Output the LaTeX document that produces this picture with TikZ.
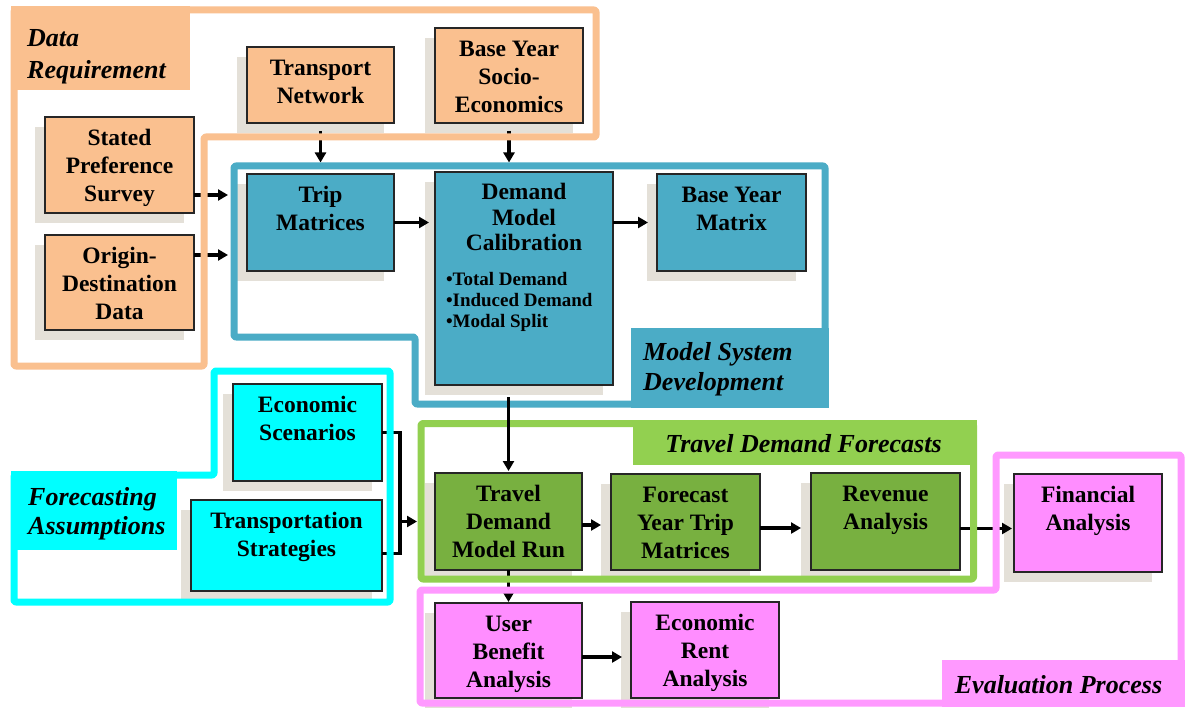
\documentclass[tikz,border=0pt]{standalone}
\usepackage{fontspec}
\setmainfont{Liberation Serif}
\usetikzlibrary{arrows.meta,shadows}

\definecolor{peach}{HTML}{FAC08F}
\definecolor{steel}{HTML}{4BACC6}
\definecolor{aqua}{HTML}{00FFFF}
\definecolor{leaf}{HTML}{78B040}
\definecolor{leafframe}{HTML}{92D050}
\definecolor{orchid}{HTML}{FF8DFF}
\definecolor{orchidframe}{HTML}{FF99FF}
\definecolor{shadowc}{HTML}{E4E0D8}
\definecolor{boxline}{HTML}{262626}

\pgfdeclarelayer{arrowlayer}
\pgfdeclarelayer{framelayer}
\pgfdeclarelayer{toplayer}
\pgfsetlayers{main,arrowlayer,framelayer,toplayer}

\newcommand\boxfont{\fontsize{23.5}{28}\selectfont\bfseries}
\newcommand\groupfont{\fontsize{26}{30}\selectfont\bfseries\itshape}
% text block of a process box: fixed size, first baseline 28.5pt below the top
\newcommand\boxtext[3]{\begin{minipage}[c][#2pt][t]{#1pt}\centering\rule{0pt}{28.5pt}#3\end{minipage}}
% left aligned group caption, anchored at its first baseline
\newcommand\grouptext[2]{\begin{minipage}[t]{#1pt}\raggedright #2\end{minipage}}

\tikzset{
  box/.style={draw=boxline, line width=1.2pt, inner sep=0pt, outer sep=0pt,
    text=black, font=\boxfont,
    drop shadow={shadow xshift=-10pt, shadow yshift=-10pt, fill=shadowc, opacity=1}},
  frame/.style={line width=7pt, rounded corners=2pt, line join=round},
  caption/.style={inner sep=0pt, text=black, font=\groupfont},
  arr/.style={line width=3.5pt, -{Triangle[length=10pt,width=11pt]}},
  bracketline/.style={line width=3.5pt, line join=miter}
}

\begin{document}
\begin{tikzpicture}[x=1pt,y=-1pt]
\useasboundingbox (0,0) rectangle (1185,708);
\fill[white] (0,0) rectangle (1185,708);

% ---------------- data requirement inputs
\node[box, fill=peach] (tn)  at (320.5,85)   {\boxtext{147}{76}{Transport\\Network}};
\node[box, fill=peach] (bys) at (509,75.5)   {\boxtext{148}{95}{Base Year\\Socio-\\Economics}};
\node[box, fill=peach] (sps) at (119.5,165)  {\boxtext{149}{96}{Stated\\Preference\\Survey}};
\node[box, fill=peach] (od)  at (119.5,282.5){\boxtext{149}{95}{Origin-\\Destination\\Data}};

% ---------------- model system development
\node[box, fill=steel] (tm)  at (320.5,222.5){\boxtext{147}{97}{Trip\\Matrices}};
\node[box, fill=steel] (dmc) at (524,278.5) {%
  \begin{minipage}[c][213pt][t]{178pt}
  {\centering\baselineskip=25.5pt\rule{0pt}{27.6pt}Demand\\Model\\Calibration\par}
  \vspace{13.5pt}
  {\raggedright\leftskip=11pt\fontsize{19}{21}\selectfont
   \textbullet Total Demand\\\textbullet Induced Demand\\\textbullet Modal Split\par}
  \end{minipage}};
\node[box, fill=steel] (bym) at (731.5,222.5){\boxtext{149}{97}{Base Year\\Matrix}};

% ---------------- forecasting assumptions
\node[box, fill=aqua] (es) at (307.5,432.5) {\boxtext{149}{97}{Economic\\Scenarios}};
\node[box, fill=aqua] (ts) at (286.5,545.5) {\boxtext{191}{91}{Transportation\\Strategies}};

% ---------------- travel demand forecasts
\node[box, fill=leaf] (tdmr) at (508.5,521.5) {\boxtext{147}{97}{Travel\\Demand\\Model Run}};
\node[box, fill=leaf] (fytm) at (685.5,522)   {\boxtext{149}{96}{Forecast\\Year Trip\\Matrices}};
\node[box, fill=leaf] (ra)   at (885.5,521.5) {\boxtext{149}{97}{Revenue\\Analysis}};

% ---------------- evaluation process
\node[box, fill=orchid] (fa)  at (1088,523)   {\boxtext{148}{98}{Financial\\Analysis}};
\node[box, fill=orchid] (uba) at (508.5,650.5){\boxtext{147}{95}{User\\Benefit\\Analysis}};
\node[box, fill=orchid] (era) at (705,650)    {\boxtext{148}{96}{Economic\\Rent\\Analysis}};

\coordinate (brk) at (400,0);

% ---------------- connectors (under the group frames)
\begin{pgfonlayer}{arrowlayer}
\draw[arr, shorten <=8pt, shorten >=11.5pt] (tn.south) -- (tm.north);
\draw[arr, shorten <=8pt, shorten >=9.5pt] (bys.south) -- (bys.south |- dmc.north);
\draw[arr, shorten >=19pt] ([yshift=-30pt]sps.east) -- ([yshift=-30pt]sps.east -| tm.west);
\draw[arr, shorten >=19pt] ([yshift=27.5pt]od.east) -- ([yshift=27.5pt]od.east -| tm.west);
\draw[arr, shorten >=6pt] (tm.east) -- (tm.east -| dmc.west);
\draw[arr, shorten >=9pt] (dmc.east |- bym.west) -- (bym.west);
\draw[bracketline] (es.east) -- (es.east -| brk) -- ([yshift=-8pt]ts.east -| brk) -- ([yshift=-8pt]ts.east);
\draw[arr, shorten >=18pt] (brk |- tdmr.west) -- (tdmr.west);
\draw[arr, shorten >=10pt] ([yshift=-3.5pt]tdmr.east) -- ([yshift=-3.5pt]tdmr.east -| fytm.west);
\draw[arr, shorten >=10pt] ([yshift=-6pt]fytm.east) -- ([yshift=-6pt]fytm.east -| ra.west);
\draw[arr, shorten >=2pt] ([yshift=-7pt]ra.east) -- ([yshift=-7pt]ra.east -| fa.west);
\draw[arr, shorten >=1pt] (tdmr.south) -- (uba.north);
\draw[arr, shorten >=9pt] ([yshift=-6.5pt]uba.east) -- ([yshift=-6.5pt]uba.east -| era.west);
\end{pgfonlayer}

% ---------------- group frames and captions
\begin{pgfonlayer}{framelayer}
\draw[frame, draw=peach] (14,10) -- (596,10) -- (596,137) -- (204,137) -- (204,366) -- (14,366) -- cycle;
\fill[peach] (10.5,6.5) rectangle (190,90);
\node[caption, anchor=base west] (capdr) at (27,46.7)
  {\grouptext{170}{\baselineskip=31.5pt Data\\Requirement}};

\draw[frame, draw=steel] (234,166) -- (825,166) -- (825,404) -- (415,404) -- (415,337) -- (234,337) -- cycle;
\fill[steel] (631,328) rectangle (828.5,407.5);
\node[caption, anchor=base west] (capmsd) at (643,360)
  {\grouptext{185}{\baselineskip=30pt Model System\\Development}};

\draw[frame, draw=aqua] (214,371) -- (390,371) -- (390,602) -- (14,602) -- (14,475) -- (214,475) -- cycle;
\fill[aqua] (10.5,471) rectangle (177,550);
\node[caption, anchor=base west] (capfa) at (28,505)
  {\grouptext{150}{\baselineskip=29.5pt Forecasting\\Assumptions}};

\draw[frame, draw=leafframe] (421,423.5) rectangle (973.5,579);
\fill[leafframe] (633,420) rectangle (977,465);
\node[caption, anchor=base] (captdf) at (803.5,452) {Travel Demand Forecasts};

\draw[frame, draw=orchidframe] (420,590) -- (996,590) -- (996,455) -- (1181,455) -- (1181,703) -- (420,703) -- cycle;
\fill[orchidframe] (942,660) rectangle (1184.5,706.5);
\node[caption, anchor=base] (capep) at (1058.5,693) {Evaluation Process};
\end{pgfonlayer}

% connector drawn over the frames
\begin{pgfonlayer}{toplayer}
\draw[arr, shorten <=12pt, shorten >=2pt] (tdmr.north |- dmc.south) -- (tdmr.north);
\end{pgfonlayer}
\end{tikzpicture}
\end{document}
